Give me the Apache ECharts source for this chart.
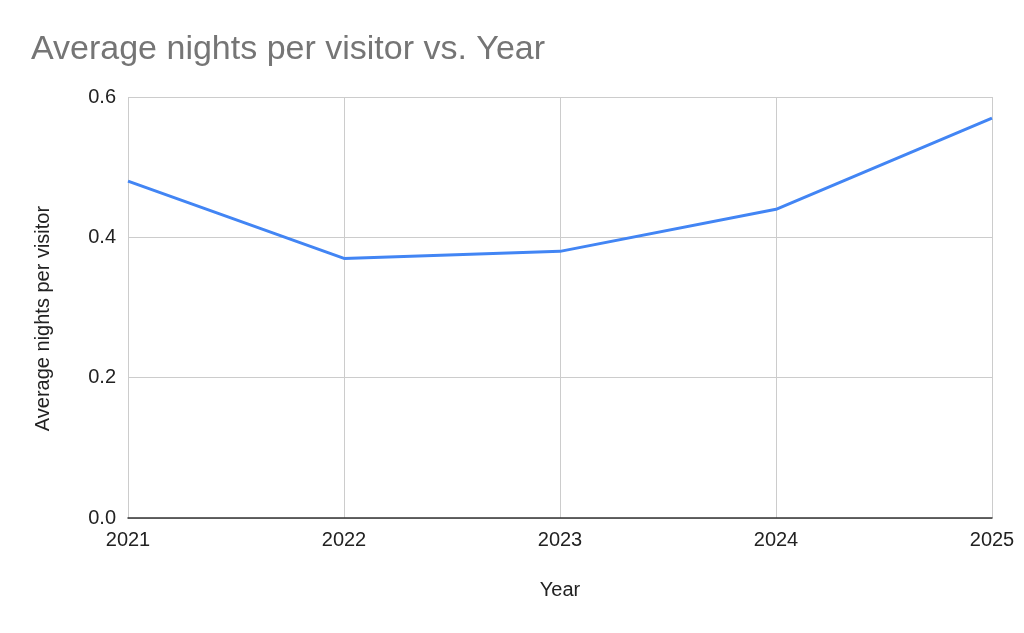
<!DOCTYPE html>
<html>
<head>
<meta charset="utf-8">
<script src="https://cdn.jsdelivr.net/npm/echarts@6/dist/echarts.min.js"></script>
<style>
  html, body { margin: 0; padding: 0; background: #fff; }
  #chart { width: 1024px; height: 633px; }
</style>
</head>
<body>
<div id="chart"></div>
<script>
// data
const years = ['2021', '2022', '2023', '2024', '2025']
const avgNights = [0.48, 0.37, 0.38, 0.44, 0.57]
const yTicks = [0, 0.2, 0.4, 0.6]

const font = 'Liberation Sans, Arial, sans-serif'

const chart = echarts.init(document.getElementById('chart'), null, { renderer: 'canvas' })
chart.setOption({
  animation: false,
  backgroundColor: '#fff',
  title: {
    text: 'Average nights per visitor vs. Year',
    left: 26,
    top: 28,
    textStyle: { fontFamily: font, fontSize: 34, fontWeight: 'normal', color: '#757575' }
  },
  grid: { left: 128, right: 32, top: 97, bottom: 115 },
  xAxis: {
    type: 'category',
    data: years,
    boundaryGap: false,
    name: 'Year',
    nameLocation: 'middle',
    nameGap: 62,
    nameTextStyle: { fontFamily: font, fontSize: 20, color: '#222' },
    axisLine: { lineStyle: { color: '#333', width: 1.5 } },
    axisTick: { show: false },
    axisLabel: { fontFamily: font, fontSize: 20, color: '#222', margin: 12 },
    splitLine: { show: true, lineStyle: { color: '#ccc', width: 1 } }
  },
  yAxis: {
    type: 'value',
    min: yTicks[0],
    max: yTicks[yTicks.length - 1],
    interval: 0.2,
    name: 'Average nights per visitor',
    nameLocation: 'middle',
    nameGap: 75,
    // pushed a little below the plot's middle, like the reference
    nameTextStyle: { fontFamily: font, fontSize: 20, color: '#222', padding: [0, 22, 0, 0] },
    axisLine: { show: false },
    axisTick: { show: false },
    axisLabel: {
      fontFamily: font, fontSize: 20, color: '#222', margin: 12,
      formatter: v => v.toFixed(1)
    },
    splitLine: { lineStyle: { color: '#ccc', width: 1 } }
  },
  series: [{
    type: 'line',
    data: avgNights,
    symbol: 'none',
    lineStyle: { color: '#4285F4', width: 3 },
    itemStyle: { color: '#4285F4' }
  }]
})
</script>
</body>
</html>
